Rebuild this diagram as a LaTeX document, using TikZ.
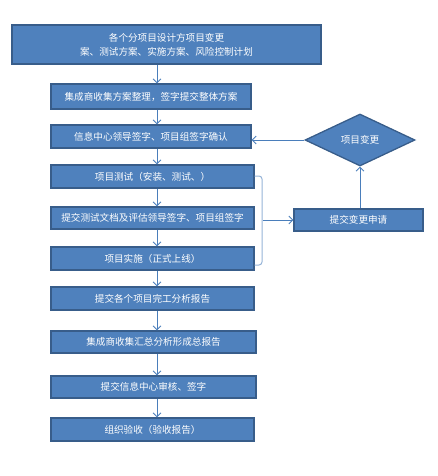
\documentclass[tikz,border=0pt]{standalone}
\usepackage{fontspec}
\setmainfont{Noto Sans CJK SC}
\usetikzlibrary{shapes.geometric,arrows.meta}
\definecolor{boxfill}{HTML}{4F81BD}
\definecolor{boxline}{HTML}{385D8A}
\definecolor{arrcol}{HTML}{4A7EBB}
\definecolor{bracecol}{HTML}{95B3D7}
\tikzset{
  box/.style={rectangle, draw=boxline, fill=boxfill, line width=1.3pt, text=white,
    font=\fontsize{9.6}{14}\selectfont, inner sep=0pt, align=center},
  dia/.style={diamond, draw=boxline, fill=boxfill, line width=1.3pt, text=white,
    font=\fontsize{9.6}{14}\selectfont, inner sep=0pt, aspect=2.1},
  arr/.style={draw=arrcol, line width=0.8pt, -{Straight Barb[length=4pt,width=8pt]}},
  bracket/.style={draw=bracecol, line width=1pt, rounded corners=3pt}
}
\begin{document}
\begin{tikzpicture}[x=1pt,y=-1pt]
\useasboundingbox (0,0) rectangle (438,476);
\node[box, minimum width=309, minimum height=39] (b1) at (166.5,44.5) {各个分项目设计方项目变更\\案、测试方案、实施方案、风险控制计划};
\node[box, minimum width=200, minimum height=25] (b2) at (151,96.5) {集成商收集方案整理，签字提交整体方案};
\node[box, minimum width=200, minimum height=23] (b3) at (151,136.5) {信息中心领导签字、项目组签字确认};
\node[box, minimum width=203, minimum height=23] (b4) at (152.5,176.5) {项目测试（安装、测试、）};
\node[box, minimum width=203, minimum height=22] (b5) at (152.5,218) {提交测试文档及评估领导签字、项目组签字};
\node[box, minimum width=203, minimum height=23] (b6) at (152.5,258.5) {项目实施（正式上线）};
\node[box, minimum width=203, minimum height=23] (b7) at (152.5,298.5) {提交各个项目完工分析报告};
\node[box, minimum width=205, minimum height=22] (b8) at (153.5,342) {集成商收集汇总分析形成总报告};
\node[box, minimum width=205, minimum height=22] (b9) at (153.5,387) {提交信息中心审核、签字};
\node[box, minimum width=203, minimum height=23] (b10) at (152.5,429.5) {组织验收（验收报告）};
\node[box, minimum width=129, minimum height=22] (rb) at (358.5,220) {提交变更申请};
\node[dia, minimum width=110, minimum height=52] (dm) at (360,140) {项目变更};
% vertical arrows
\coordinate (ax) at (157,0);
\foreach \a/\b in {b1/b2,b2/b3,b3/b4,b4/b5,b5/b6,b6/b7,b7/b8,b8/b9,b9/b10}{
  \draw[arr] (\a.south -| ax) -- (\b.north -| ax);
}
% change loop
\draw[arr] (rb.north -| dm.south) -- (dm.south);
\draw[arr] (dm.west) -- (dm.west -| b3.east);
% bracket
\coordinate (bt) at (262,176);
\coordinate (bb) at (262,265);
\coordinate (bm) at (263,220);
\draw[bracket] (b4.east |- bt) -- (bt) -- (bb) -- (b6.east |- bb);
\draw[arr] (bm) -- (rb.west);
\end{tikzpicture}
\end{document}
